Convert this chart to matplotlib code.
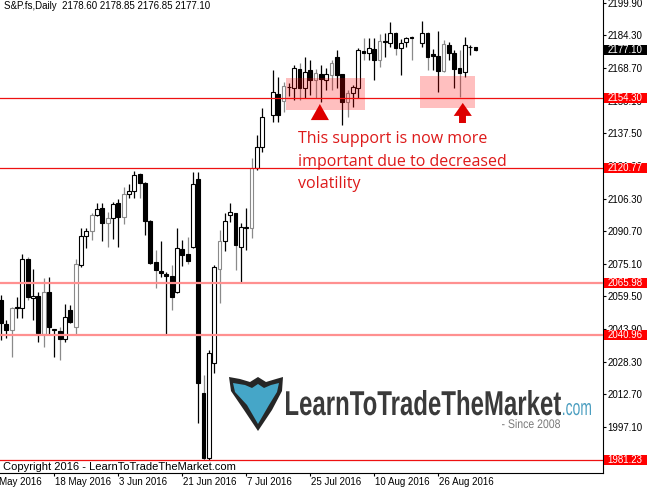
import numpy as np
import pandas as pd
import matplotlib
matplotlib.use("Agg")
import matplotlib.pyplot as plt
from matplotlib.patches import Rectangle, Polygon, PathPatch
from matplotlib.textpath import TextPath
from matplotlib.font_manager import FontProperties
from matplotlib.transforms import Affine2D, IdentityTransform, blended_transform_factory

plt.rcParams['font.family'] = ['Liberation Sans', 'DejaVu Sans']

# S&P.fs daily bars, 4 May - 6 Sep 2016 (two bars are not visible in the shot -> nan)
dates = pd.bdate_range("2016-05-04", "2016-09-06")
nan = np.nan
opens = [2057.8, 2046.3, 2043.5, 2054.0, 2054.0, 2077.4, 2058.8, 2059.7, 2041.5, 2061.6,
         2043.5, 2043.0, 2039.2, 2053.0, 2044.9, 2074.5, 2088.4, 2090.8, 2098.4, 2101.8,
         2094.6, 2097.0, 2104.2, 2097.5, 2108.5, 2109.9, 2118.0, 2113.7, 2095.6, 2075.9,
         2071.7, 2070.2, 2069.3, 2061.6, 2082.2, 2079.8, 2083.1, 2115.6, 2013.3, 1982.3,
         2027.7, 2072.6, 2086.0, 2098.4, 2099.4, 2083.1, 2092.2, 2092.2, 2120.9, 2130.9,
         nan, 2146.2, 2156.3, 2152.9, 2159.8, 2159.1, 2168.2, 2159.1, 2167.7, 2163.0,
         2165.8, 2163.0, 2165.4, 2174.0, 2165.8, 2152.4, 2156.7, 2159.1, 2176.8, 2175.9,
         2177.8, 2172.5, 2181.1, 2180.6, 2185.4, 2178.3, 2181.1, 2183.5, nan, 2180.6,
         2185.4, 2175.4, 2174.4, 2167.3, 2179.7, 2175.9, 2168.7, 2166.8, 2178.7, 2178.60]
highs = [2060.2, 2048.2, 2054.5, 2059.2, 2079.8, 2078.4, 2072.6, 2061.6, 2068.3, 2068.8,
         2043.9, 2044.9, 2055.9, 2055.4, 2077.4, 2092.2, 2092.2, 2099.4, 2104.2, 2104.2,
         2099.9, 2104.6, 2106.1, 2111.8, 2113.2, 2119.5, 2118.5, 2114.2, 2095.8, 2081.7,
         2086.0, 2071.2, 2074.5, 2092.2, 2086.5, 2087.9, 2119.0, 2119.0, 2021.9, 2033.9,
         2074.5, 2091.3, 2099.4, 2104.2, 2099.6, 2094.6, 2101.8, 2125.7, 2136.7, 2149.6,
         nan, 2167.7, 2164.4, 2162.0, 2161.5, 2170.1, 2171.1, 2174.0, 2172.5, 2168.2,
         2170.1, 2168.7, 2172.5, 2177.3, 2166.0, 2158.2, 2160.6, 2178.3, 2183.0, 2183.0,
         2183.0, 2184.9, 2185.4, 2190.7, 2185.9, 2182.6, 2183.5, 2184.0, nan, 2191.2,
         2185.9, 2177.8, 2186.4, 2182.1, 2181.1, 2177.3, 2177.3, 2183.5, 2179.7, 2178.85]
lows = [2038.7, 2039.6, 2030.6, 2049.2, 2049.2, 2057.8, 2048.2, 2037.7, 2035.3, 2041.1,
        2030.6, 2029.1, 2037.7, 2046.8, 2041.5, 2073.6, 2082.7, 2086.5, 2098.0, 2086.0,
        2083.1, 2087.0, 2083.1, 2094.1, 2106.6, 2106.6, 2106.6, 2088.9, 2075.0, 2063.5,
        2068.8, 2041.1, 2053.0, 2061.3, 2074.1, 2075.0, 2082.8, 1999.0, 1981.3, 1981.3,
        2022.9, 2056.4, 2081.2, 2095.1, 2072.1, 2065.9, 2081.7, 2087.4, 2119.9, 2128.5,
        nan, 2142.9, 2142.9, 2147.7, 2155.3, 2153.4, 2153.4, 2154.4, 2155.8, 2154.4,
        2152.4, 2158.2, 2158.2, 2159.1, 2141.4, 2145.3, 2150.0, 2154.4, 2172.5, 2172.5,
        2163.0, 2169.0, 2174.0, 2178.7, 2174.9, 2165.4, 2178.7, 2172.5, nan, 2178.7,
        2167.7, 2167.7, 2157.2, 2166.8, 2172.5, 2159.1, 2154.8, 2164.4, 2174.9, 2176.85]
closes = [2046.8, 2043.5, 2054.0, 2054.3, 2077.4, 2059.2, 2059.7, 2042.0, 2061.6, 2044.9,
          2043.8, 2039.2, 2049.7, 2047.3, 2075.0, 2088.4, 2090.8, 2098.4, 2101.3, 2094.6,
          2097.0, 2103.7, 2097.5, 2108.5, 2109.9, 2117.6, 2113.7, 2095.6, 2075.5, 2072.1,
          2070.7, 2069.3, 2059.2, 2082.7, 2079.3, 2076.4, 2113.2, 2018.1, 1982.3, 2032.5,
          2073.6, 2086.0, 2095.6, 2099.9, 2084.1, 2092.7, 2092.4, 2120.9, 2130.9, 2145.3,
          nan, 2157.2, 2146.2, 2160.1, 2159.4, 2168.7, 2159.1, 2166.8, 2163.0, 2166.3,
          2163.4, 2165.8, 2171.1, 2165.4, 2152.4, 2156.7, 2159.6, 2177.3, 2175.9, 2178.3,
          2172.5, 2181.6, 2181.6, 2185.4, 2178.3, 2180.6, 2183.0, 2183.0, nan, 2185.4,
          2174.0, 2174.4, 2167.3, 2180.2, 2175.9, 2168.2, 2166.3, 2179.7, 2178.5, 2177.10]

price_ticks = [2199.90, 2184.30, 2168.70, 2153.10, 2137.50, 2121.90, 2106.30,
               2090.70, 2075.10, 2059.50, 2043.90, 2028.30, 2012.70, 1997.10]
date_ticks = ["2016-05-02", "2016-05-18", "2016-06-03", "2016-06-21",
              "2016-07-07", "2016-07-25", "2016-08-10", "2016-08-26"]
levels = [2154.30, 2120.77, 2065.98, 2040.96, 1981.23]
level_strong = [True, True, False, False, True]
last_price = 2177.10
title = "S&P.fs,Daily  2178.60 2178.85 2176.85 2177.10"
note = ["This support is now more", "important due to decreased", "volatility"]

# zones / markers (bar index, price)
zone1 = (53.4, 68.3, 2148.6, 2163.9)
zone2 = (78.6, 88.9, 2149.6, 2164.9)
tri1 = [(58.1, 2143.8), (61.5, 2143.8), (59.8, 2151.5)]
arrow2 = [(85.9, 2142.4), (87.2, 2142.4), (87.2, 2145.8), (88.3, 2145.8),
          (86.6, 2152.0), (84.9, 2145.8), (85.9, 2145.8)]

W, H = 649, 487
AXW, AXH = 603, 473
RED = '#ee1111'

fig = plt.figure(figsize=(W / 100, H / 100), dpi=100)
fig.patch.set_facecolor('white')
ax = fig.add_axes([0, (H - AXH) / H, AXW / W, AXH / H])
ax.set_xlim(-0.19, 112.9)
ax.set_ylim(1975.1, 2201.2)
for s in ['top', 'left']:
    ax.spines[s].set_visible(False)
for s in ['right', 'bottom']:
    ax.spines[s].set_linewidth(0.8)

# candles
x = np.arange(len(dates))
o, h, l, c = (np.array(v, dtype=float) for v in (opens, highs, lows, closes))
ok = ~np.isnan(o)
up = c >= o
edge = np.where(x % 3 == 2, '#8a8a8a', '#000000')
edge = np.where(up, edge, '#000000')
wick = np.where(x % 3 == 2, '#8a8a8a', '#000000')
face = np.where(up, 'white', 'black')
ax.vlines(x[ok], l[ok], h[ok], colors=wick[ok], lw=0.9, zorder=2)
body_lo = np.minimum(o, c)
body_h = np.maximum(np.abs(c - o), 0.35)
ax.bar(x[ok], body_h[ok], bottom=body_lo[ok], width=0.7, color=face[ok],
       edgecolor=edge[ok], linewidth=0.8, zorder=3)

# horizontal levels
for lv, strong in zip(levels, level_strong):
    if strong:
        ax.axhline(lv, color=RED, lw=0.9, zorder=4)
    else:
        ax.axhline(lv, color='#ff9090', lw=1.6, zorder=4)

# support zones and markers
for x0, x1, y0, y1 in (zone1, zone2):
    ax.add_patch(Rectangle((x0, y0), x1 - x0, y1 - y0, fc=(1, 0, 0, 0.25), ec='none', zorder=5))
ax.add_patch(Polygon(tri1, closed=True, fc='#dd0000', ec='none', zorder=6))
ax.add_patch(Polygon(arrow2, closed=True, fc='#dd0000', ec='none', zorder=6))

for k, line in enumerate(note):
    ax.text(298 / AXW, (AXH - (143 + 22.5 * k)) / AXH, line, transform=ax.transAxes,
            family=['Open Sans', 'DejaVu Sans'], fontsize=11.5, color='#dd1a1a',
            va='baseline', ha='left', zorder=7)

# right price axis
ax.yaxis.tick_right()
ax.set_yticks(price_ticks)
ax.set_yticklabels(["%.2f" % p for p in price_ticks])
ax.tick_params(axis='y', length=2.2, width=0.8, pad=1.2, labelsize=7, colors='black')
btr = blended_transform_factory(ax.transAxes, ax.transData)
box_h = 10 * 226.1 / AXH
box_x0, box_x1 = 604 / AXW, 647 / AXW
for lv in levels:
    ax.add_patch(Rectangle((box_x0, lv - box_h / 2), box_x1 - box_x0, box_h, transform=btr,
                           fc='#ff0000', ec='none', clip_on=False, zorder=8))
    ax.text(607.5 / AXW, lv, "%.2f" % lv, transform=btr, color='white', fontsize=7,
            va='center', ha='left', clip_on=False, zorder=9)
ax.add_patch(Rectangle((box_x0, last_price - box_h / 2), box_x1 - box_x0, box_h, transform=btr,
                       fc='black', ec='none', clip_on=False, zorder=8))
ax.text(607.5 / AXW, last_price, "%.2f" % last_price, transform=btr, color='white', fontsize=7,
        va='center', ha='left', clip_on=False, zorder=9)

# date axis (labels start at the tick, like MT4)
tick_pos = [np.busday_count("2016-05-04", d) for d in date_ticks]
ax.set_xticks([p for p in tick_pos if p >= 0])
ax.set_xticklabels([])
ax.tick_params(axis='x', length=2.2, width=0.8)
xtr = blended_transform_factory(ax.transData, ax.transAxes)
for p, d in zip(tick_pos, date_ticks):
    lab = pd.Timestamp(d).strftime("%d %b %Y").lstrip("0")
    ax.text(p + 0.1, -4 / AXH, lab, transform=xtr, fontsize=7, va='top', ha='left', clip_on=False)

fig.text(4 / W, 1 - 6 / H, title, fontsize=7, va='center', ha='left')
ax.text(3 / AXW, (AXH - 467) / AXH, "Copyright 2016 - LearnToTradeTheMarket.com",
        transform=ax.transAxes, fontsize=8, va='center', ha='left', zorder=7)


# watermark logo, squeezed text paths placed in pixel space
def fit_text(s, x0, x1, y_top, y_base, color, weight='bold',
             family=('Liberation Sans Narrow', 'Liberation Sans')):
    tp = TextPath((0, 0), s, size=10, prop=FontProperties(family=list(family), weight=weight))
    ext = tp.get_extents()
    sx = (x1 - x0) / ext.width
    sy = (y_base - y_top) / ext.y1
    tr = Affine2D().translate(-ext.x0, 0).scale(sx, sy).translate(x0, H - y_base)
    fig.add_artist(PathPatch(tr.transform_path(tp), fc=color, ec='none',
                             transform=IdentityTransform(), zorder=10))


fit_text("LearnToTradeTheMarket", 286, 561, 390, 415, '#3a3a3a')
fit_text(".com", 563, 591, 403, 415, '#4b9ec0', weight='normal')
fit_text("- Since 2008", 502, 560, 419, 428, '#7a7a7a', weight='normal')

outer = [(229, 377), (240, 379), (250, 382), (258, 377), (266, 382), (276, 379), (283, 377),
         (282, 391), (272, 410), (258, 431), (244, 410), (231, 391)]
inner = [(233, 383), (245, 385), (252, 388), (258, 384), (264, 388), (271, 385), (279, 383),
         (277, 392), (269, 405), (258, 424), (247, 405), (235, 392)]
fig.add_artist(Polygon([(px, H - py) for px, py in outer], closed=True, fc='#262626', ec='none',
                       transform=IdentityTransform(), zorder=10))
fig.add_artist(Polygon([(px, H - py) for px, py in inner], closed=True, fc='#45a6c8', ec='none',
                       transform=IdentityTransform(), zorder=11))

fig.savefig("out.png", dpi=100, facecolor='white')
